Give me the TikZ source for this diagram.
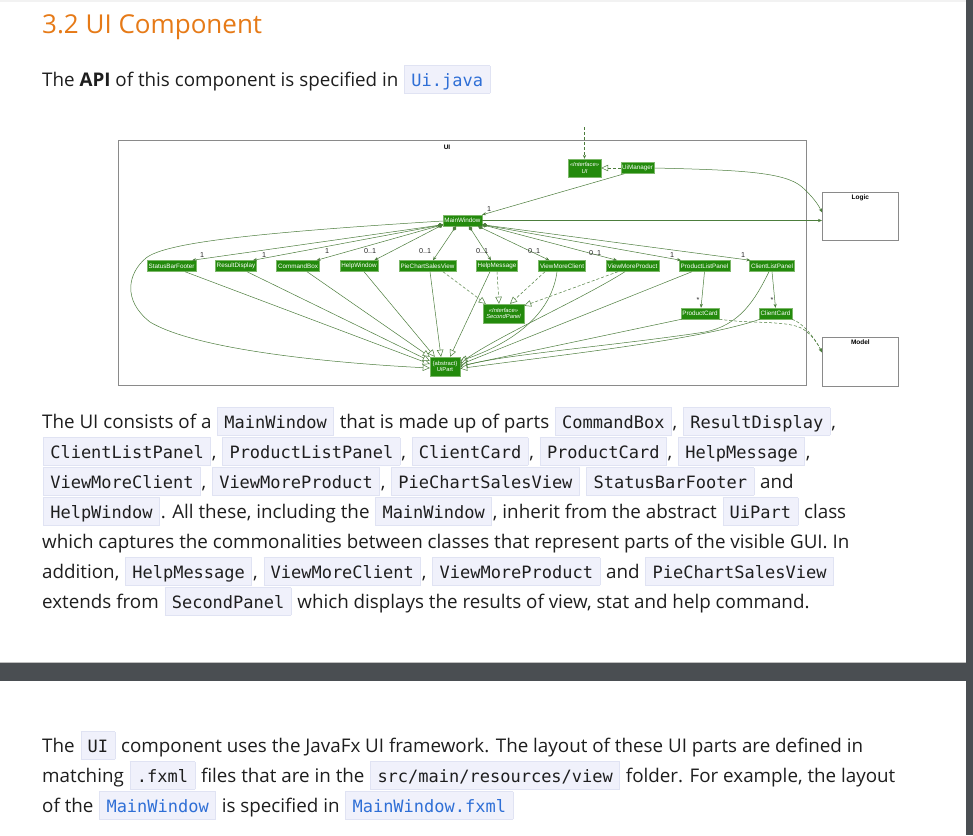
\documentclass[tikz,border=0pt]{standalone}
\usepackage{fontspec}
\setmainfont{Open Sans}
\newfontfamily\codefont{DejaVu Sans Mono}
\newfontfamily\umlfont{Liberation Sans}
\usetikzlibrary{arrows.meta}
\definecolor{umlgreen}{HTML}{238A0C}
\definecolor{umlborder}{HTML}{7DB86A}
\definecolor{edge}{HTML}{4C7D3C}
\definecolor{heading}{HTML}{E67A17}
\definecolor{bodytext}{HTML}{1E1E1E}
\definecolor{cfill}{HTML}{F0F1FB}
\definecolor{cbord}{HTML}{E0E3F3}
\definecolor{linkblue}{HTML}{2F6FD6}
\definecolor{band}{HTML}{4A4E52}
\definecolor{frame}{HTML}{8A8A8A}
\newcommand\cdx[2]{\hspace{1pt}{\setlength{\fboxsep}{0pt}\setlength\fboxrule{0.6pt}\fcolorbox{cbord}{cfill}{\rule[-7pt]{0pt}{27pt}\hspace{6.5pt}{\codefont\fontsize{17}{20}\selectfont\color{#1}#2}\hspace{6.5pt}}}\hspace{1pt}}
\newcommand\cd[1]{\cdx{bodytext}{#1}}
\newcommand\lk[1]{\cdx{linkblue}{#1}}
\tikzset{
  txt/.style={anchor=base west, inner sep=0pt, text=bodytext, font=\fontsize{18.8}{22}\selectfont},
  cls/.style={fill=umlgreen, draw=umlborder, line width=0.4pt, text=white, align=center,
    font=\umlfont\fontsize{6.3}{6.6}\selectfont, inner xsep=1.4pt, inner ysep=1pt, minimum height=11pt},
  pkgbox/.style={draw=frame, line width=0.8pt, fill=white},
  pkglabel/.style={font=\umlfont\bfseries\fontsize{6.5}{7}\selectfont, inner sep=0pt},
  mult/.style={font=\umlfont\fontsize{7.2}{7.2}\selectfont, text=black!85, inner sep=0pt},
  ln/.style={draw=edge, line width=0.5pt},
  assoc/.style={ln, -{Stealth[length=4pt,width=3.2pt]}},
  comp/.style={ln, {Diamond[length=5.5pt,width=4pt]}-{Stealth[length=4pt,width=3.2pt]}},
  inh/.style={ln, -{Triangle[open,length=7pt,width=6.5pt,fill=white]}},
  real/.style={inh, dash pattern=on 3pt off 2pt},
  dep/.style={assoc, dash pattern=on 3pt off 2pt},
}
\begin{document}
\begin{tikzpicture}[x=1pt,y=-1pt]
\useasboundingbox (0,0) rectangle (973,835);
\fill[white] (0,0) rectangle (973,835);
\fill[black!5] (0,0) rectangle (966,2);
\fill[band] (0,663) rectangle (973,681);
\fill[band] (966,0) rectangle (973,835);
\fill[black!25] (0,661.5) rectangle (966,663);

% heading and text
\node[txt, text=heading, font=\fontsize{26}{30}\selectfont] (h) at (42,33) {3.2 UI Component};
\node[txt] (api) at (42,86) {The \textbf{API} of this component is specified in \lk{Ui.java}};

\node[txt] (p1) at (42,428) {The UI consists of a \cd{MainWindow} that is made up of parts \cd{CommandBox}, \cd{ResultDisplay},};
\node[txt] (p2) at (42,458) {\cd{ClientListPanel}, \cd{ProductListPanel}, \cd{ClientCard}, \cd{ProductCard}, \cd{HelpMessage},};
\node[txt] (p3) at (42,488) {\cd{ViewMoreClient}, \cd{ViewMoreProduct}, \cd{PieChartSalesView} \cd{StatusBarFooter} and};
\node[txt] (p4) at (42,518) {\cd{HelpWindow}. All these, including the \cd{MainWindow}, inherit from the abstract \cd{UiPart} class};
\node[txt] (p5) at (42,548) {which captures the commonalities between classes that represent parts of the visible GUI. In};
\node[txt] (p6) at (42,578) {addition, \cd{HelpMessage}, \cd{ViewMoreClient}, \cd{ViewMoreProduct} and \cd{PieChartSalesView}};
\node[txt] (p7) at (42,608) {extends from \cd{SecondPanel} which displays the results of view, stat and help command.};

\node[txt] (q1) at (42,752) {The \cd{UI} component uses the JavaFx UI framework. The layout of these UI parts are defined in};
\node[txt] (q2) at (42,782) {matching \cd{.fxml} files that are in the \cd{src/main/resources/view} folder. For example, the layout};
\node[txt] (q3) at (42,812) {of the \lk{MainWindow} is specified in \lk{MainWindow.fxml}};

% diagram frames
\draw[frame, line width=0.8pt] (118,140) rectangle (806,385);
\node[pkglabel] (uilbl) at (447,147) {UI};
\node[pkgbox, anchor=north west, minimum width=76pt, minimum height=48pt, inner sep=0pt] (logic) at (822,192) {};
\node[pkglabel, anchor=north] (logiclbl) at ([yshift=-3pt]logic.north) {Logic};
\node[pkgbox, anchor=north west, minimum width=76pt, minimum height=49pt, inner sep=0pt] (model) at (822,337) {};
\node[pkglabel, anchor=north] (modellbl) at ([yshift=-3pt]model.north) {Model};

% classes
\node[cls, font=\umlfont\itshape\fontsize{5.8}{6.8}\selectfont, minimum width=33pt, minimum height=18pt] (ui) at (584.5,168) {«Interface»\\UI};
\node[cls] (uim) at (637.5,168) {UiManager};
\node[cls] (mw) at (462.5,220.5) {MainWindow};
\node[cls] (sbf) at (171.5,266) {StatusBarFooter};
\node[cls] (rd) at (236,266) {ResultDisplay};
\node[cls] (cb) at (298,266) {CommandBox};
\node[cls] (hw) at (359,266) {HelpWindow};
\node[cls] (pie) at (427.5,266) {PieChartSalesView};
\node[cls] (hm) at (497,266) {HelpMessage};
\node[cls] (vmc) at (562,266) {ViewMoreClient};
\node[cls] (vmp) at (632.5,266) {ViewMoreProduct};
\node[cls] (plp) at (704.5,266) {ProductListPanel};
\node[cls] (clp) at (772,266) {ClientListPanel};
\node[cls, font=\umlfont\itshape\fontsize{5.8}{6.8}\selectfont, minimum width=41pt, minimum height=19pt] (sp) at (503.5,313.5) {«Interface»\\SecondPanel};
\node[cls] (pc) at (700,313.5) {ProductCard};
\node[cls] (cc) at (775.5,313.5) {ClientCard};
\node[cls, font=\umlfont\fontsize{5.8}{6.8}\selectfont, minimum width=30pt, minimum height=19pt] (up) at (445,366.5) {\{abstract\}\\UiPart};

% top connector
\coordinate (topin) at (584.5,127);
\draw[dep] (topin) -- (ui.north);
\draw[real] (uim.west) -- (ui.east);
\draw[assoc] ([xshift=4pt]uim.south west) -- (mw.north east);
\node[mult] (m0) at (489,209) {1};
\draw[assoc] (uim.east) .. controls (740,170) and (785,172) .. (802,187) .. controls (812,196) and (818,204) .. ([yshift=4pt]logic.west);
\draw[assoc] (mw.east) -- (mw.east -| logic.west);

% compositions
\draw[comp] ([yshift=1.5pt]mw.south west) -- ([xshift=-4pt]sbf.north east);
\draw[comp] ([yshift=1.5pt]mw.south west) -- ([xshift=-4pt]rd.north east);
\draw[comp] ([yshift=1.5pt]mw.south west) -- ([xshift=-3pt]cb.north east);
\draw[comp] ([yshift=1.5pt]mw.south west) -- ([xshift=-4pt]hw.north east);
\draw[comp] ([xshift=-6.5pt]mw.south) -- ([xshift=5.5pt]pie.north);
\draw[comp] ([xshift=6.5pt]mw.south) -- ([xshift=-6pt]hm.north);
\draw[comp] ([xshift=15.5pt]mw.south) -- ([xshift=11pt]vmc.north west);
\draw[comp] ([yshift=1.5pt]mw.south east) -- ([xshift=11pt]vmp.north west);
\draw[comp] ([yshift=1.5pt]mw.south east) -- ([xshift=2pt]plp.north west);
\draw[comp] ([yshift=1.5pt]mw.south east) -- ([xshift=1pt]clp.north west);
\node[mult] (m1) at (202,255) {1};
\node[mult] (m2) at (264,255) {1};
\node[mult] (m3) at (327,251) {1};
\node[mult] (m4) at (370,251) {0..1};
\node[mult] (m5) at (425,251) {0..1};
\node[mult] (m6) at (482,251) {0..1};
\node[mult] (m7) at (534,251) {0..1};
\node[mult] (m8) at (595,253) {0..1};
\node[mult] (m9) at (672,255) {1};
\node[mult] (m10) at (743,255) {1};

% cards
\draw[assoc] (plp.south) -- ([xshift=1pt]pc.north);
\node[mult] (s1) at (698,300) {*};
\draw[assoc] (clp.south) -- (cc.north);
\node[mult] (s2) at (772,300) {*};

% realizations of SecondPanel
\draw[real] ([xshift=15.5pt]pie.south) -- ([xshift=3pt]sp.north west);
\draw[real] (hm.south) -- ([xshift=-4.5pt]sp.north);
\draw[real] ([xshift=-17pt]vmc.south) -- ([xshift=6.5pt]sp.north);
\draw[real] ([xshift=-14.5pt]vmp.south) -- ([yshift=-2pt]sp.north east);

% inheritance to UiPart
\draw[inh] ([yshift=-0.5pt]mw.west) .. controls (250,233) and (165,243) .. (146,258) .. controls (128,273) and (122,300) .. (150,322) .. controls (200,352) and (350,364) .. ([yshift=-1.5pt]up.west);
\draw[inh] ([xshift=13.5pt]sbf.south) -- ([yshift=2.5pt]up.west);
\draw[inh] ([xshift=11pt]rd.south) -- ([yshift=5.5pt]up.west);
\draw[inh] ([xshift=9pt]cb.south) -- (up.north west);
\draw[inh] ([xshift=5pt]hw.south) -- ([xshift=5pt]up.north west);
\draw[inh] ([xshift=2.5pt]pie.south) -- ([xshift=-4pt]up.north);
\draw[inh] ([xshift=-7pt]hm.south) -- ([xshift=5pt]up.north);
\draw[inh] ([xshift=-5pt]vmc.south) .. controls (552,310) and (520,340) .. ([yshift=5.5pt]up.east);
\draw[inh] ([xshift=-7.5pt]vmp.south) .. controls (580,300) and (500,335) .. ([yshift=3.5pt]up.east);
\draw[inh] ([xshift=-12.5pt]plp.south) -- ([yshift=2pt]up.east);
\draw[inh] ([xshift=1pt]pc.south west) -- ([yshift=0.5pt]up.east);
\draw[inh] ([xshift=-3pt]clp.south) .. controls (755,300) and (740,325) .. (705,332) .. controls (620,345) and (500,355) .. ([yshift=-0.5pt]up.east);
\draw[inh] ([xshift=1pt]cc.south west) .. controls (700,340) and (560,355) .. ([yshift=-2pt]up.east);

% dependencies to Model
\draw[dep] (pc.south east) .. controls (750,324) and (788,320) .. (803,329) .. controls (812,335) and (818,344) .. ([yshift=9.5pt]model.west);
\draw[dep] (cc.south east) .. controls (803,323) and (815,338) .. ([yshift=9.5pt]model.west);
\end{tikzpicture}
\end{document}
